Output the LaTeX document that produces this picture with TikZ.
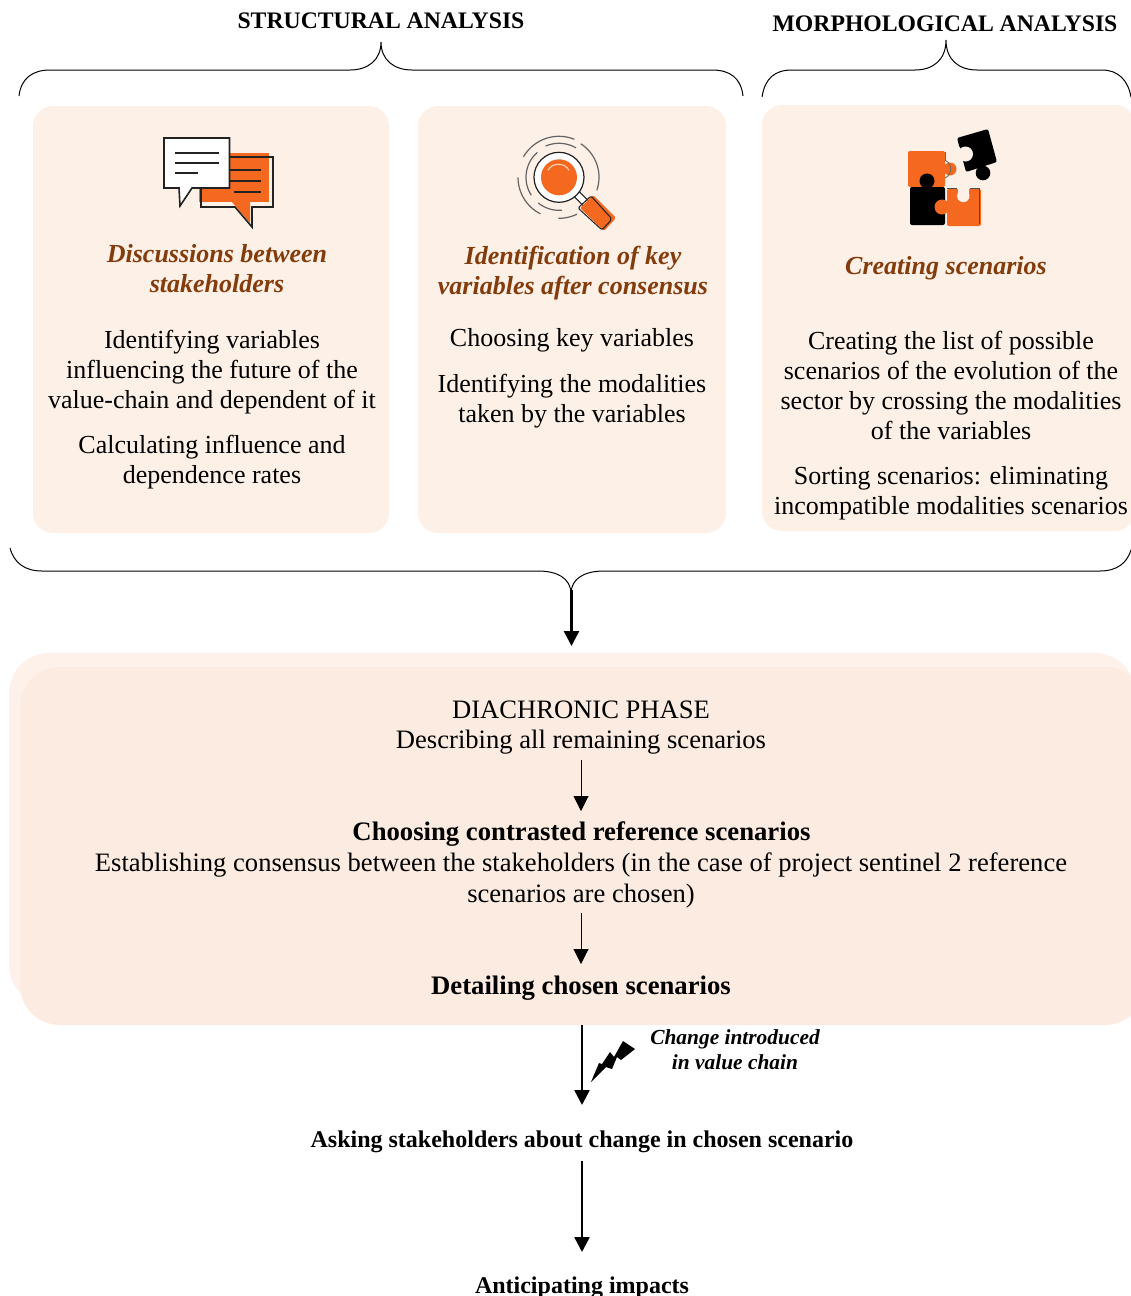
\documentclass[tikz,border=0pt]{standalone}
\usepackage{fontspec}
\setmainfont{Liberation Serif}
\usetikzlibrary{arrows.meta}
\definecolor{panelc}{HTML}{FDF0E7}
\definecolor{backc}{HTML}{FDF1E9}
\definecolor{frontc}{HTML}{FCEBE1}
\definecolor{brownc}{HTML}{843C0C}
\definecolor{orangec}{HTML}{F4691F}
\definecolor{inkc}{HTML}{222222}
\newcommand{\fs}[2]{\fontsize{#1}{#2}\selectfont}
\newcommand{\ringarc}[3]{\draw[ringline] plot[domain=#2:#3,samples=24,smooth] ({#1*cos(\x)},{#1*sin(\x)});}
\tikzset{
  x=1pt,y=-1pt,
  body/.style={align=center,inner sep=0pt,font=\fs{26}{30}},
  wide/.style={align=center,inner sep=0pt,font=\fs{26.6}{30.5}},
  widetop/.style={align=center,inner sep=0pt,font=\fs{26.6}{30}},
  head/.style={align=center,inner sep=0pt,font=\fs{26}{30}\bfseries\itshape,text=brownc},
  title/.style={inner sep=0pt,font=\fs{23.7}{28}\bfseries},
  strong/.style={align=center,inner sep=0pt,font=\fs{26.7}{31}\bfseries},
  lower/.style={inner sep=0pt,font=\fs{24}{28}\bfseries},
  bracket/.style={draw=black,line width=1pt},
  flow/.style={draw=black,-{Triangle[length=15pt,width=15pt]}},
  panel/.style={fill=panelc,rounded corners=20pt},
  ic/.style={draw=inkc,line width=1.6pt},
  ringline/.style={draw=inkc!70,line width=1.2pt},
}
\begin{document}
\begin{tikzpicture}
\useasboundingbox (0,0) rectangle (1131,1296);
\clip (0,0) rectangle (1131,1296);
% panels
\fill[panel] (33,106) rectangle (389,533);
\fill[panel] (418,106) rectangle (726,533);
\fill[panel] (762,105) rectangle (1135,531);
\fill[backc,rounded corners=40pt] (9,653) rectangle (1135,1005);
\fill[frontc,rounded corners=40pt] (20,667) rectangle (1145,1025);
% braces
\draw[bracket] (19,96) .. controls (21,78) and (33,70) .. (50,70) -- (350,70) .. controls (368,70) and (381,60) .. (381,42) .. controls (381,60) and (394,70) .. (412,70) -- (712,70) .. controls (730,70) and (741,78) .. (743,96);
\draw[bracket] (762,97) .. controls (765,78) and (775,70) .. (792,70) -- (915,70) .. controls (933,70) and (946,60) .. (946,40) .. controls (946,60) and (959,70) .. (977,70) -- (1102,70) .. controls (1118,70) and (1128,80) .. (1131,97);
\draw[bracket] (10,548) .. controls (14,563) and (25,571) .. (42,571) -- (538,571) .. controls (557,571) and (571,578) .. (571,594) .. controls (571,578) and (585,571) .. (604,571) -- (1100,571) .. controls (1117,571) and (1127,563) .. (1131,550);
\coordinate (a0s) at (571.5,590);
\coordinate (a0e) at (571.5,646);
\draw[flow,line width=2.5pt] (a0s) -- (a0e);
% titles
\node[title,anchor=base] (t1) at (381,28.5) {STRUCTURAL ANALYSIS};
\node[title,anchor=base] (t2) at (945,31.5) {MORPHOLOGICAL ANALYSIS};
% icon 1
\fill[orangec] (199,153) rectangle (269,202);
\fill[orangec] (232,202) -- (250,223) -- (250,202) -- cycle;
\draw[ic] (201,157) -- (273,157) -- (273,207) -- (252,207) -- (252,227) -- (235,207) -- (201,207) -- cycle;
\draw[ic,fill=white] (164,138) -- (229.5,138) -- (229.5,188) -- (192,188) -- (180,206) -- (179,188) -- (164,188) -- cycle;
\draw[ic] (175,153) -- (219,153) (175,163) -- (219,163) (175,173) -- (198,173);
\draw[ic] (230,170) -- (261,170) (230,181) -- (261,181) (234,192) -- (261,192);
% icon 2
\begin{scope}[shift={(559,177.3)}]
\ringarc{41}{210}{292}
\ringarc{40}{303}{379}
\ringarc{34}{247}{300}
\ringarc{33}{147}{229}
\ringarc{41}{117}{180}
\ringarc{33}{85}{129}
\ringarc{41}{64}{91}
\draw[inkc,line width=1pt,fill=white] (15,19) -- (20,14) -- (30,24) -- (25,29) -- cycle;
\draw[inkc,line width=1.2pt,fill=white] (0,0) circle (25);
\fill[orangec] (0,0) circle (18);
\draw[white!75!orangec,line width=1pt] (-11,-7) .. controls (-7,-15) and (6,-15) .. (10,-7);
\end{scope}
\fill[orangec,rounded corners=2pt] (580,208) -- (593,195) -- (616,218) -- (604,231) -- cycle;
\draw[inkc,line width=1pt,rounded corners=2pt] (578,208) -- (591,196) -- (612,219) -- (602,230) -- cycle;
% icon 3: upper left piece
\fill[orangec,rounded corners=2pt] (908,151) rectangle (945,187);
\fill[orangec] (950,169) circle (6.5);
\draw[inkc!70,line width=.8pt] (945,152) -- (945,160);
\draw[inkc!70,line width=.8pt] (945,160) arc[start angle=-65,end angle=65,radius=10];
% lower left piece
\fill[black,rounded corners=2pt] (910,187) rectangle (945,225);
\fill[black] (927,181) circle (7.5);
% lower right piece
\fill[orangec,rounded corners=2pt] (947,189) rectangle (981,226);
\fill[orangec] (942,207) circle (7.5);
\fill[panelc] (957.5,187) rectangle (969,195);
\fill[panelc] (963.3,196) circle (6.2);
\draw[inkc!80,line width=.8pt] (947,188.5) -- (957,188.5) (970,188.5) -- (979,188.5) -- (979,224);
% detached piece
\fill[black,rounded corners=2pt] (957,138) -- (988,129) -- (997,162) -- (966,172) -- cycle;
\fill[black] (983,173) circle (7.3);
\fill[panelc] (965.5,154) circle (7.5);
\fill[panelc] (955,147) -- (960,147) -- (962,161) -- (955,161) -- cycle;
% card texts
\node[head] (h1) at (217,269) {Discussions between\\stakeholders};
\node[head] (h2) at (573,273) {Identification of key\\variables after consensus};
\node[head] (h3) at (946,268) {Creating scenarios};
\node[body] (b1) at (212,372) {Identifying variables\\influencing the future of the\\value-chain and dependent of it};
\node[body] (b1b) at (212,462) {Calculating influence and\\dependence rates};
\node[body] (b2) at (572,340) {Choosing key variables};
\node[body] (b2b) at (572,401) {Identifying the modalities\\taken by the variables};
\node[body] (b3) at (951,385) {Creating the list of possible\\scenarios of the evolution of the\\sector by crossing the modalities\\of the variables};
\node[body] (b3b) at (951,493.5) {Sorting scenarios: eliminating\\incompatible modalities scenarios};
% main
\node[widetop] (d1) at (581,727.5) {DIACHRONIC PHASE\\Describing all remaining scenarios};
\coordinate (a1s) at (581,760);
\coordinate (a1e) at (581,811);
\draw[flow,line width=1pt] (a1s) -- (a1e);
\node[strong] (d2) at (581.5,834) {Choosing contrasted reference scenarios};
\node[wide] (d3) at (581,880.5) {Establishing consensus between the stakeholders (in the case of project sentinel 2 reference\\scenarios are chosen)};
\coordinate (a2s) at (581,913);
\coordinate (a2e) at (581,964);
\draw[flow,line width=1pt] (a2s) -- (a2e);
\node[strong] (d4) at (581,988) {Detailing chosen scenarios};
\coordinate (a3s) at (582,1025);
\coordinate (a3e) at (582,1105);
\draw[flow,line width=2.5pt] (a3s) -- (a3e);
\fill[black] (591,1082) -- (599,1063) -- (602,1064) -- (610,1052) -- (614,1057) -- (623,1041) -- (635,1049) -- (621,1060) -- (617,1057) -- (612,1069) -- (606,1067) -- cycle;
\node[align=center,inner sep=0pt,font=\fs{21.4}{25}\bfseries\itshape] (c1) at (735,1050) {Change introduced\\in value chain};
\node[lower] (d5) at (582,1142) {Asking stakeholders about change in chosen scenario};
\coordinate (a4s) at (582,1161);
\coordinate (a4e) at (582,1252);
\draw[flow,line width=2.5pt] (a4s) -- (a4e);
\node[lower] (d6) at (582,1288) {Anticipating impacts};
\end{tikzpicture}
\end{document}
